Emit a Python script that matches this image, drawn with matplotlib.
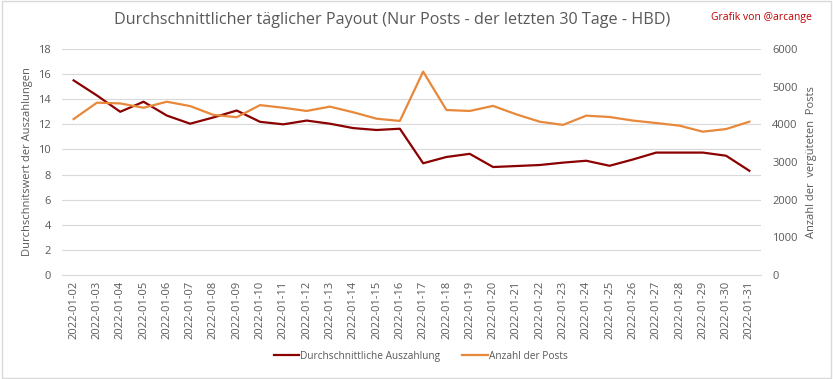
import matplotlib.pyplot as plt
from matplotlib.patches import Rectangle

plt.rcParams['font.family'] = ['Open Sans', 'DejaVu Sans']

# Daten
tage = ["2022-01-%02d" % d for d in range(2, 32)]

auszahlung = [15.5, 14.3, 13.0, 13.8, 12.7, 12.05, 12.55, 13.1, 12.2, 12.0,
              12.3, 12.05, 11.7, 11.55, 11.65, 8.9, 9.4, 9.65, 8.6, 8.68,
              8.76, 8.95, 9.1, 8.7, 9.2, 9.75, 9.75, 9.75, 9.5, 8.3]

anzahl_posts = [4140, 4575, 4555, 4440, 4600, 4485, 4250, 4190, 4510, 4440,
                4355, 4470, 4320, 4150, 4090, 5400, 4380, 4355, 4490, 4265,
                4070, 3985, 4230, 4195, 4100, 4035, 3965, 3805, 3875, 4070]

grau = "#595959"
rot = "#8B0000"
orange = "#E8883A"

fig = plt.figure(figsize=(8.33, 3.79), dpi=100)
ax = fig.add_axes([0.0744, 0.2744, 0.8392, 0.5963])
ax2 = ax.twinx()

x = range(len(tage))
l1, = ax.plot(x, auszahlung, color=rot, lw=1.6, label="Durchschnittliche Auszahlung", zorder=3)
l2, = ax2.plot(x, anzahl_posts, color=orange, lw=1.6, label="Anzahl der Posts", zorder=2)

ax.set_ylim(0, 18)
ax.set_yticks(range(0, 19, 2))
ax2.set_ylim(0, 6000)
ax2.set_yticks(range(0, 6001, 1000))
ax.set_xlim(-0.5, len(tage) - 0.5)
ax.set_xticks(list(x))
ax.set_xticklabels(tage, rotation=90, fontsize=7, color=grau)

ax.grid(axis="y", color="#D9D9D9", lw=0.8)
ax.set_axisbelow(True)
for a in (ax, ax2):
    for s in a.spines.values():
        s.set_visible(False)
    a.tick_params(length=0, labelsize=8, labelcolor=grau)
ax.spines["bottom"].set_visible(True)
ax.spines["bottom"].set_color("#D9D9D9")
ax.tick_params(axis="x", pad=4)
ax.tick_params(axis="y", pad=8)
ax2.tick_params(axis="y", pad=8)

ax.set_ylabel("Durchschnitswert der Auszahlungen", fontsize=8, color=grau)
ax2.set_ylabel("Anzahl der  vergüteten  Posts", fontsize=8, color=grau, labelpad=6)

fig.text(0.471, 0.947, "Durchschnittlicher täglicher Payout (Nur Posts - der letzten 30 Tage - HBD)",
         ha="center", va="center", fontsize=11.6, color=grau)
fig.text(0.975, 0.955, "Grafik von @arcange", ha="right", va="center", fontsize=7.5, color="#C00000")

fig.legend(handles=[l1, l2], loc="center", bbox_to_anchor=(0.505, 0.06), ncol=2,
           frameon=False, fontsize=7.3, labelcolor=grau, handlelength=2.5,
           handletextpad=0.1, columnspacing=2.2)

fig.patches.append(Rectangle((0.002, 0.003), 0.996, 0.994, transform=fig.transFigure,
                             fill=False, edgecolor="#D9D9D9", lw=1))

fig.savefig("out.png", dpi=100)
